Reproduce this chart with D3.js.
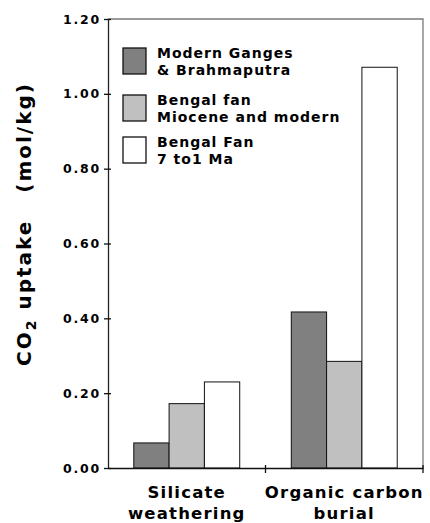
<!DOCTYPE html>
<html>
<head>
<meta charset="utf-8">
<script src="https://cdn.jsdelivr.net/npm/d3@7"></script>
<style>
  body { margin: 0; background: #fff; }
  text { font-family: "DejaVu Sans", sans-serif; font-weight: bold; fill: #000; }
</style>
</head>
<body>
<figure id="chart" style="margin:0"></figure>
<script>
const categories = ["Silicate weathering", "Organic carbon burial"];
const categoryLines = [["Silicate", "weathering"], ["Organic carbon", "burial"]];
const seriesNames = ["Modern Ganges & Brahmaputra", "Bengal fan Miocene and modern", "Bengal Fan 7 to1 Ma"];
const legendLines = [["Modern Ganges", "& Brahmaputra"], ["Bengal fan", "Miocene and modern"], ["Bengal Fan", "7 to1 Ma"]];
const modernGB = [0.067, 0.417];
const bengalMiocene = [0.172, 0.285];
const bengal7to1 = [0.230, 1.071];
const yTicks = [0, 0.2, 0.4, 0.6, 0.8, 1.0, 1.2];

const colors = ["#808080", "#c0c0c0", "#ffffff"];
const width = 430, height = 523;
const margin = { top: 19, right: 7, bottom: 55, left: 108 };

const svg = d3.select("figure#chart")
  .append("svg")
  .attr("width", width)
  .attr("height", height);

const x0 = d3.scaleBand()
  .domain(categories)
  .range([margin.left, width - margin.right])
  .padding(0);

const x1 = d3.scaleBand()
  .domain(seriesNames)
  .range([0, x0.bandwidth()])
  .paddingInner(0)
  .paddingOuter(0.73);

const y = d3.scaleLinear()
  .domain([0, 1.2])
  .range([height - margin.bottom, margin.top]);

const table = categories.map((c, i) => ({
  cat: c,
  values: [modernGB[i], bengalMiocene[i], bengal7to1[i]]
}));

// plot frame (top and right)
svg.append("path")
  .attr("d", `M${margin.left},${y(1.2)}H${width - margin.right}V${y(0)}`)
  .attr("fill", "none")
  .attr("stroke", "#7a7a7a")
  .attr("stroke-width", 1.3);

// bars
const groups = svg.append("g")
  .selectAll("g")
  .data(table)
  .enter().append("g")
  .attr("transform", d => `translate(${x0(d.cat)},0)`);

groups.selectAll("rect")
  .data(d => d.values.map((v, i) => ({ key: seriesNames[i], value: v, i: i })))
  .enter().append("rect")
  .attr("x", d => x1(d.key))
  .attr("y", d => y(d.value))
  .attr("width", x1.bandwidth())
  .attr("height", d => y(0) - y(d.value))
  .attr("fill", d => colors[d.i])
  .attr("stroke", "#111")
  .attr("stroke-width", 1);

// y axis
const yAxis = svg.append("g")
  .attr("transform", `translate(${margin.left},0)`)
  .call(d3.axisLeft(y).tickValues(yTicks).tickFormat(d3.format(".2f")).tickSize(4).tickSizeOuter(0));
yAxis.select(".domain").attr("stroke", "#222").attr("stroke-width", 1.3);
yAxis.selectAll(".tick line").attr("x1", -4).attr("x2", 3).attr("stroke", "#111").attr("stroke-width", 1.3);
yAxis.selectAll(".tick text")
  .attr("x", -7)
  .style("font-size", "12.5px")
  .style("letter-spacing", "1.8px")
  .style("font-family", "DejaVu Sans")
  .style("font-weight", "bold");

// x axis
const xAxis = svg.append("g")
  .attr("transform", `translate(0,${y(0)})`)
  .call(d3.axisBottom(x0).tickSize(0).tickFormat("").tickSizeOuter(0));
xAxis.select(".domain").attr("stroke", "#111").attr("stroke-width", 1.3);
xAxis.selectAll(".tick").remove();
// category boundary ticks
xAxis.selectAll("line.sep")
  .data(categories)
  .enter().append("line")
  .attr("class", "sep")
  .attr("x1", d => x0(d) + x0.bandwidth())
  .attr("x2", d => x0(d) + x0.bandwidth())
  .attr("y1", -3)
  .attr("y2", 5)
  .attr("stroke", "#111")
  .attr("stroke-width", 1.3);

// category labels
categoryLines.forEach((lines, i) => {
  const cx = x0(categories[i]) + x0.bandwidth() / 2;
  lines.forEach((t, j) => {
    svg.append("text")
      .attr("x", cx)
      .attr("y", y(0) + 30 + j * 21)
      .attr("text-anchor", "middle")
      .style("font-size", "16.5px")
      .style("letter-spacing", "1.2px")
      .text(t);
  });
});

// y label
const yLabel = svg.append("text")
  .attr("transform", `translate(31,224) rotate(-90)`)
  .attr("text-anchor", "middle")
  .style("font-size", "20px")
  .style("letter-spacing", "2px");
yLabel.append("tspan").text("CO");
yLabel.append("tspan").attr("dy", 5).style("font-size", "14px").text("2");
yLabel.append("tspan").attr("dy", -5).text("\u00a0uptake\u00a0\u00a0\u00a0(mol/kg)");

// legend
const legendY = [48, 95, 137];
const legend = svg.append("g").selectAll("g")
  .data(legendLines)
  .enter().append("g")
  .attr("transform", (d, i) => `translate(123,${legendY[i]})`);
legend.append("rect")
  .attr("width", 23)
  .attr("height", 26)
  .attr("fill", (d, i) => colors[i])
  .attr("stroke", "#111")
  .attr("stroke-width", 1.3);
legend.each(function(lines) {
  lines.forEach((t, j) => {
    d3.select(this).append("text")
      .attr("x", 34)
      .attr("y", 10 + j * 17)
      .style("font-size", "14px")
      .style("letter-spacing", "1px")
      .text(t);
  });
});
</script>
</body>
</html>
